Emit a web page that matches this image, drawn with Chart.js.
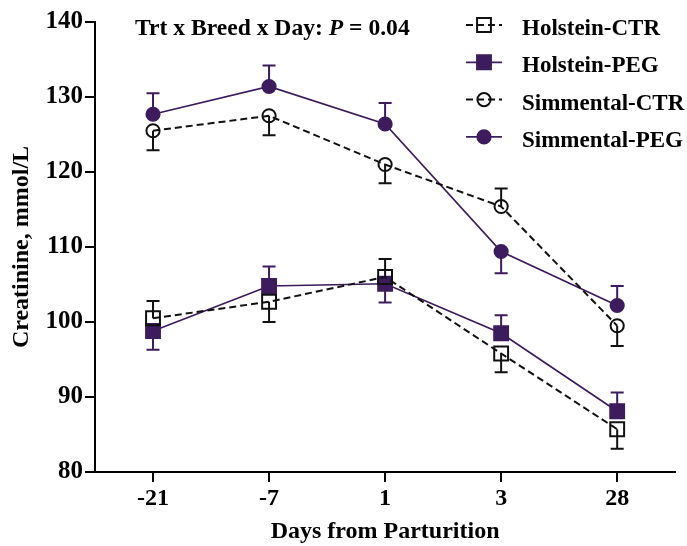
<!DOCTYPE html>
<html>
<head>
<meta charset="utf-8">
<script src="https://cdn.jsdelivr.net/npm/chart.js@4/dist/chart.umd.min.js"></script>
<style>
  html, body { margin: 0; padding: 0; background: #fff; }
  #wrap { width: 687px; height: 546px; }
</style>
</head>
<body>
<div id="wrap"><canvas id="c" width="687" height="546"></canvas></div>
<script>
const days = ["-21", "-7", "1", "3", "28"]

const holsteinCtr = [100.5, 102.7, 106.0, 95.8, 85.7]
const holsteinCtrSem = [2.3, 2.7, 2.4, 2.5, 2.6]
const holsteinPeg = [98.8, 104.8, 105.1, 98.5, 88.1]
const holsteinPegSem = [2.5, 2.6, 2.5, 2.4, 2.5]
const simmentalCtr = [125.5, 127.5, 121.0, 115.4, 99.5]
const simmentalCtrSem = [2.6, 2.6, 2.5, 2.4, 2.7]
const simmentalPeg = [127.7, 131.4, 126.4, 109.4, 102.2]
const simmentalPegSem = [2.8, 2.8, 2.8, 2.9, 2.6]

const yTicks = [80, 90, 100, 110, 120, 130, 140]

const serif = "'Liberation Serif', 'Times New Roman', serif"
const purple = "#3d1c5e"
const black = "#111111"

function series(label, data, sem, partner, color, dashed, style, filled) {
  return {
    label: label,
    data: data,
    sem: sem,
    partner: partner,
    borderColor: color,
    borderWidth: dashed ? 2 : 1.7,
    borderDash: dashed ? [7, 4] : [],
    pointStyle: style,
    pointRadius: style === "rect" ? 9.8 : 6.6,
    pointHoverRadius: style === "rect" ? 9.8 : 6.6,
    pointBorderWidth: 2,
    pointBorderColor: color,
    pointBackgroundColor: filled ? color : "rgba(0,0,0,0)",
    tension: 0,
    fill: false,
  }
}

const datasets = [
  series("Holstein-CTR", holsteinCtr, holsteinCtrSem, 1, black, true, "rect", false),
  series("Holstein-PEG", holsteinPeg, holsteinPegSem, 0, purple, false, "rect", true),
  series("Simmental-CTR", simmentalCtr, simmentalCtrSem, 3, black, true, "circle", false),
  series("Simmental-PEG", simmentalPeg, simmentalPegSem, 2, purple, false, "circle", true),
]

// one-sided error bars: the higher of each breed pair points up, the lower down
const errorBars = {
  id: "errorBars",
  beforeDatasetsDraw(chart) {
    const ctx = chart.ctx
    const y = chart.scales.y
    chart.data.datasets.forEach((ds, di) => {
      const meta = chart.getDatasetMeta(di)
      const other = chart.data.datasets[ds.partner].data
      ctx.save()
      ctx.strokeStyle = ds.borderColor
      ctx.lineWidth = 2
      ctx.setLineDash([])
      meta.data.forEach((pt, i) => {
        const dir = ds.data[i] >= other[i] ? 1 : -1
        const y0 = y.getPixelForValue(ds.data[i])
        const y1 = y.getPixelForValue(ds.data[i] + dir * ds.sem[i])
        ctx.beginPath()
        ctx.moveTo(pt.x, y0)
        ctx.lineTo(pt.x, y1)
        ctx.moveTo(pt.x - 6.5, y1)
        ctx.lineTo(pt.x + 6.5, y1)
        ctx.stroke()
      })
      ctx.restore()
    })
  }
}

const headerAndLegend = {
  id: "headerAndLegend",
  afterDraw(chart) {
    const ctx = chart.ctx
    ctx.save()
    ctx.fillStyle = "#000"
    ctx.textBaseline = "alphabetic"
    ctx.textAlign = "left"
    // statistics note
    let x = 135
    const parts = [["Trt x Breed x Day: ", "bold"], ["P", "italic bold"], [" = 0.04", "bold"]]
    parts.forEach(p => {
      ctx.font = p[1] + " 23.6px " + serif
      ctx.fillText(p[0], x, 34.7)
      x += ctx.measureText(p[0]).width
    })
    // legend
    chart.data.datasets.forEach((ds, i) => {
      const base = 35 + i * 37.3
      const my = base - 10
      ctx.strokeStyle = ds.borderColor
      ctx.lineWidth = ds.borderWidth
      ctx.setLineDash(ds.borderDash)
      ctx.beginPath()
      ctx.moveTo(466, my)
      ctx.lineTo(502, my)
      ctx.stroke()
      ctx.setLineDash([])
      ctx.lineWidth = 2
      ctx.fillStyle = ds.pointBackgroundColor
      Chart.helpers.drawPoint(ctx, {
        pointStyle: ds.pointStyle,
        radius: ds.pointRadius,
        rotation: 0,
        borderWidth: 2,
      }, 484, my)
      ctx.fillStyle = "#000"
      ctx.font = "bold 23px " + serif
      ctx.fillText(ds.label, 522, base)
    })
    ctx.restore()
  }
}

new Chart(document.getElementById("c"), {
  type: "line",
  data: { labels: days, datasets: datasets },
  options: {
    responsive: false,
    animation: false,
    events: [],
    layout: { padding: { top: 22, right: 7, bottom: 0, left: 0 } },
    plugins: {
      legend: { display: false },
      tooltip: { enabled: false },
    },
    scales: {
      x: {
        type: "category",
        offset: true,
        afterFit(s) { s.height = 74 },
        grid: {
          display: true,
          drawOnChartArea: false,
          drawTicks: true,
          tickLength: 10,
          color: "#000",
          lineWidth: 2,
          offset: false,
        },
        border: { display: true, color: "#000", width: 2 },
        ticks: {
          color: "#000",
          padding: 2,
          maxRotation: 0,
          font: { family: serif, size: 24, weight: "bold" },
        },
        title: {
          display: true,
          text: "Days from Parturition",
          color: "#000",
          padding: { top: 0, bottom: 0 },
          font: { family: serif, size: 24, weight: "bold" },
        },
      },
      y: {
        min: 80,
        max: 140,
        afterFit(s) { s.width = 95 },
        afterBuildTicks(s) { s.ticks = yTicks.map(v => ({ value: v })) },
        grid: {
          display: true,
          drawOnChartArea: false,
          drawTicks: true,
          tickLength: 10,
          color: "#000",
          lineWidth: 2,
        },
        border: { display: true, color: "#000", width: 2 },
        ticks: {
          color: "#000",
          padding: 2,
          font: { family: serif, size: 25, weight: "bold" },
        },
        title: {
          display: true,
          text: "Creatinine, mmol/L",
          color: "#000",
          padding: { top: 7, bottom: 0 },
          font: { family: serif, size: 24, weight: "bold" },
        },
      },
    },
  },
  plugins: [errorBars, headerAndLegend],
})
</script>
</body>
</html>
